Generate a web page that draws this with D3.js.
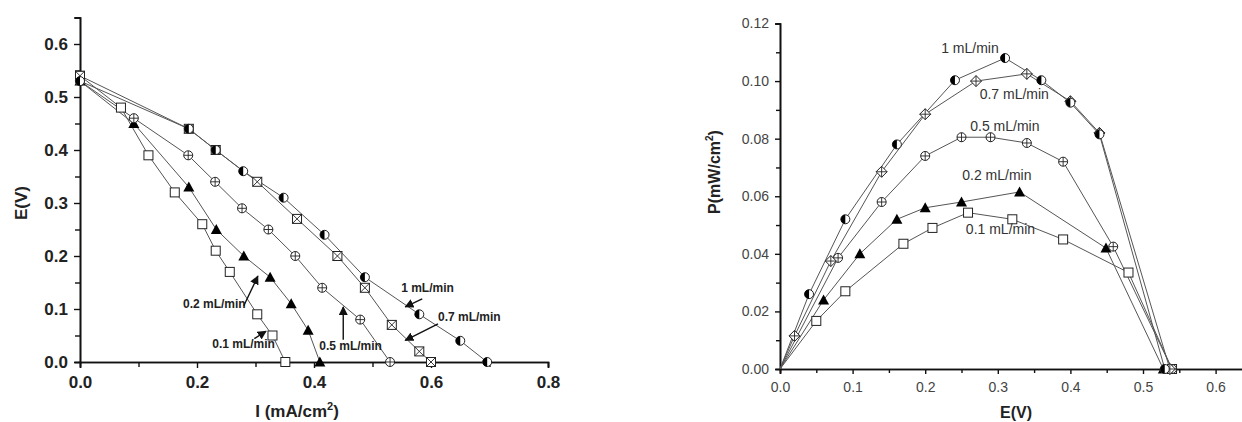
<!DOCTYPE html>
<html>
<head>
<meta charset="utf-8">
<title>E-I and P-E curves</title>
<script src="https://d3js.org/d3.v7.min.js"></script>
<style>
  body { margin: 0; background: #fff; }
  svg { display: block; font-family: "Liberation Sans", Arial, sans-serif; }
</style>
</head>
<body>
<div id="vis"></div>
<script>
// ---- data: polarization curves E(V) vs I (mA/cm2), per flow rate
const flows = ["0.1 mL/min", "0.2 mL/min", "0.5 mL/min", "0.7 mL/min", "1 mL/min"]

const polar01 = [[0, 0.54], [0.07, 0.48], [0.117, 0.39], [0.162, 0.32], [0.209, 0.26], [0.232, 0.21], [0.256, 0.17], [0.303, 0.09], [0.329, 0.05], [0.351, 0.0]]
const polar02 = [[0, 0.53], [0.092, 0.45], [0.186, 0.33], [0.233, 0.25], [0.28, 0.20], [0.325, 0.16], [0.361, 0.11], [0.39, 0.06], [0.41, 0.0]]
const polar05 = [[0, 0.53], [0.092, 0.46], [0.185, 0.39], [0.231, 0.34], [0.277, 0.29], [0.322, 0.25], [0.368, 0.20], [0.414, 0.14], [0.479, 0.08], [0.53, 0.0]]
const polar07 = [[0, 0.54], [0.186, 0.44], [0.232, 0.40], [0.303, 0.34], [0.371, 0.27], [0.44, 0.20], [0.487, 0.14], [0.533, 0.07], [0.58, 0.02], [0.60, 0.0]]
const polar1 = [[0, 0.53], [0.186, 0.44], [0.232, 0.40], [0.279, 0.36], [0.348, 0.31], [0.418, 0.24], [0.487, 0.16], [0.58, 0.09], [0.65, 0.04], [0.696, 0.0]]

// ---- data: power curves P(mW/cm2) vs E(V)
const power01 = [[0, 0], [0.05, 0.0167], [0.09, 0.027], [0.17, 0.0435], [0.21, 0.049], [0.259, 0.0543], [0.32, 0.052], [0.39, 0.045], [0.48, 0.0335], [0.54, 0]]
const power02 = [[0, 0], [0.06, 0.024], [0.11, 0.040], [0.161, 0.052], [0.20, 0.056], [0.25, 0.058], [0.33, 0.0615], [0.449, 0.042], [0.528, 0]]
const power05 = [[0, 0], [0.08, 0.0386], [0.14, 0.058], [0.20, 0.074], [0.25, 0.0805], [0.29, 0.0805], [0.34, 0.0785], [0.39, 0.072], [0.459, 0.0425], [0.54, 0]]
const power07 = [[0, 0], [0.02, 0.0115], [0.07, 0.0375], [0.14, 0.0685], [0.20, 0.0885], [0.27, 0.10], [0.34, 0.1025], [0.40, 0.093], [0.44, 0.082], [0.537, 0]]
const power1 = [[0, 0], [0.04, 0.026], [0.09, 0.052], [0.161, 0.078], [0.241, 0.1003], [0.31, 0.108], [0.36, 0.1003], [0.40, 0.0925], [0.44, 0.0815], [0.53, 0]]

const markerKinds = ["square", "triangle", "circlePlus", "boxX", "halfCircle"]
const markerKindsRight = ["square", "triangle", "circlePlus", "diamondPlus", "halfCircle"]

// ticks
const leftXTicks = [0, 0.2, 0.4, 0.6, 0.8]
const leftYTicks = [0, 0.1, 0.2, 0.3, 0.4, 0.5, 0.6]
const rightXTicks = [0, 0.1, 0.2, 0.3, 0.4, 0.5, 0.6]
const rightYTicks = [0, 0.02, 0.04, 0.06, 0.08, 0.10, 0.12]

// annotations (data coords): label start/baseline and arrow tail/head
const leftNoteText = ["1 mL/min", "0.7 mL/min", "0.5 mL/min", "0.2 mL/min", "0.1 mL/min"]
const leftNotePos = [[0.549, 0.132], [0.612, 0.077], [0.409, 0.023], [0.176, 0.102], [0.226, 0.026]]
const leftArrows = [
  [[0.585, 0.119], [0.556, 0.104]],
  [[0.612, 0.072], [0.556, 0.041]],
  [[0.45, 0.042], [0.45, 0.104]],
  [[0.28, 0.106], [0.304, 0.162]],
  [[0.298, 0.044], [0.318, 0.058]]
]
const rightNoteText = ["1 mL/min", "0.7 mL/min", "0.5 mL/min", "0.2 mL/min", "0.1 mL/min"]
const rightNotePos = [[0.222, 0.1098], [0.275, 0.0938], [0.262, 0.0827], [0.251, 0.0657], [0.256, 0.047]]

const width = 1242
const height = 422

const svg = d3.select("#vis").append("svg")
  .attr("width", width)
  .attr("height", height)

svg.append("defs").append("marker")
  .attr("id", "head")
  .attr("viewBox", "0 0 10 10")
  .attr("refX", 9).attr("refY", 5)
  .attr("markerWidth", 9).attr("markerHeight", 9)
  .attr("markerUnits", "userSpaceOnUse")
  .attr("orient", "auto")
  .append("path")
  .attr("d", "M0,0 L10,5 L0,10 z")
  .attr("fill", "#111")

const ink = "#222"
const lineCol = "#555"

function drawMarker(g, kind, x, y) {
  const m = g.append("g").attr("transform", `translate(${x},${y})`)
  const s = 4.5
  if (kind === "square") {
    m.append("rect").attr("x", -s).attr("y", -s).attr("width", 2 * s).attr("height", 2 * s)
      .attr("fill", "#fff").attr("stroke", ink).attr("stroke-width", 1)
  } else if (kind === "triangle") {
    m.append("path").attr("d", `M0,${-s - 1} L${s + 1},${s} L${-s - 1},${s} Z`).attr("fill", "#000")
  } else if (kind === "circlePlus") {
    m.append("circle").attr("r", s).attr("fill", "#fff").attr("stroke", ink)
    m.append("path").attr("d", `M${-s},0 H${s} M0,${-s} V${s}`).attr("stroke", ink).attr("stroke-width", 0.9)
  } else if (kind === "boxX") {
    m.append("rect").attr("x", -s).attr("y", -s).attr("width", 2 * s).attr("height", 2 * s)
      .attr("fill", "#fff").attr("stroke", ink)
    m.append("path").attr("d", `M${-s},${-s} L${s},${s} M${s},${-s} L${-s},${s}`).attr("stroke", ink).attr("stroke-width", 0.9)
  } else if (kind === "diamondPlus") {
    const d = s + 1
    m.append("path").attr("d", `M0,${-d} L${d},0 L0,${d} L${-d},0 Z`).attr("fill", "#fff").attr("stroke", ink)
    m.append("path").attr("d", `M${-d},0 H${d} M0,${-d} V${d}`).attr("stroke", ink).attr("stroke-width", 0.9)
  } else if (kind === "halfCircle") {
    m.append("circle").attr("r", s).attr("fill", "#fff").attr("stroke", ink)
    m.append("path").attr("d", `M0,${-s} A${s},${s} 0 0,0 0,${s} Z`).attr("fill", "#000")
  }
}

function drawAxes(x, y, xTicks, yTicks, xMinor, yMinor, opts) {
  const g = svg.append("g")
  const xAxis = d3.axisBottom(x).tickValues(xTicks).tickSize(opts.major).tickPadding(opts.padX)
    .tickFormat(opts.xFmt)
  const yAxis = d3.axisLeft(y).tickValues(yTicks).tickSize(opts.major).tickPadding(opts.padY)
    .tickFormat(opts.yFmt)
  g.append("g").attr("transform", `translate(0,${y(0)})`).call(xAxis)
  g.append("g").attr("transform", `translate(${x(0)},0)`).call(yAxis)
  g.append("g").attr("transform", `translate(0,${y(0)})`)
    .call(d3.axisBottom(x).tickValues(xMinor).tickSize(opts.minor).tickFormat(""))
  g.append("g").attr("transform", `translate(${x(0)},0)`)
    .call(d3.axisLeft(y).tickValues(yMinor).tickSize(opts.minor).tickFormat(""))
  g.selectAll(".domain").attr("stroke", "#111").attr("stroke-width", 1.6)
  g.selectAll(".tick line").attr("stroke", "#111").attr("stroke-width", 1.4)
  g.selectAll(".tick text").attr("fill", opts.textCol)
    .style("font-size", opts.fontSize).style("font-weight", opts.weight)
  return g
}

// ================= left chart =================
const xL = d3.scaleLinear().domain([0, 0.8]).range([80, 548])
const yL = d3.scaleLinear().domain([0, 0.65]).range([362, 17.5])

drawAxes(xL, yL, leftXTicks, leftYTicks,
  [0.1, 0.3, 0.5, 0.7], [0.05, 0.15, 0.25, 0.35, 0.45, 0.55, 0.65],
  { major: 6, minor: 5, padX: 8, padY: 6, fontSize: "17px", weight: "bold", textCol: "#222",
    xFmt: d3.format(".1f"), yFmt: d3.format(".1f") })

const leftSeries = [polar01, polar02, polar05, polar07, polar1]
const lineL = d3.line().x(d => xL(d[0])).y(d => yL(d[1]))
const gL = svg.append("g")
leftSeries.forEach(s => {
  gL.append("path").attr("d", lineL(s)).attr("fill", "none").attr("stroke", lineCol).attr("stroke-width", 1)
})
leftSeries.forEach((s, i) => {
  s.forEach(d => drawMarker(gL, markerKinds[i], xL(d[0]), yL(d[1])))
})

leftNoteText.forEach((t, i) => {
  svg.append("text").attr("x", xL(leftNotePos[i][0])).attr("y", yL(leftNotePos[i][1]))
    .text(t).style("font-size", "12px").style("font-weight", "bold").attr("fill", "#222")
  const a = leftArrows[i]
  svg.append("line")
    .attr("x1", xL(a[0][0])).attr("y1", yL(a[0][1]))
    .attr("x2", xL(a[1][0])).attr("y2", yL(a[1][1]))
    .attr("stroke", "#111").attr("stroke-width", 1.4)
    .attr("marker-end", "url(#head)")
})

svg.append("text").attr("transform", `translate(27,203) rotate(-90)`)
  .attr("text-anchor", "middle").text("E(V)")
  .style("font-size", "17px").style("font-weight", "bold").attr("fill", "#222")

const iLab = svg.append("text").attr("x", 297).attr("y", 417).attr("text-anchor", "middle")
  .style("font-size", "17px").style("font-weight", "bold").attr("fill", "#222")
iLab.append("tspan").text("I (mA/cm")
iLab.append("tspan").attr("dy", -7).style("font-size", "11px").text("2")
iLab.append("tspan").attr("dy", 7).text(")")

// ================= right chart =================
const xR = d3.scaleLinear().domain([0, 0.65]).range([780, 780 + 0.65 * 726])
const yR = d3.scaleLinear().domain([0, 0.12]).range([369, 23.5])

drawAxes(xR, yR, rightXTicks, rightYTicks,
  [0.05, 0.15, 0.25, 0.35, 0.45, 0.55], [0.01, 0.03, 0.05, 0.07, 0.09, 0.11],
  { major: 5, minor: 4, padX: 8, padY: 6, fontSize: "14px", weight: "normal", textCol: "#444",
    xFmt: d3.format(".1f"), yFmt: d3.format(".2f") })

const rightSeries = [power01, power02, power05, power07, power1]
const lineR = d3.line().x(d => xR(d[0])).y(d => yR(d[1]))
const gR = svg.append("g")
rightSeries.forEach(s => {
  gR.append("path").attr("d", lineR(s)).attr("fill", "none").attr("stroke", lineCol).attr("stroke-width", 1)
})
// origin points are hidden under the axes corner in the original
rightSeries.forEach((s, i) => {
  s.filter(d => d[0] > 0).forEach(d => drawMarker(gR, markerKindsRight[i], xR(d[0]), yR(d[1])))
})

rightNoteText.forEach((t, i) => {
  svg.append("text").attr("x", xR(rightNotePos[i][0])).attr("y", yR(rightNotePos[i][1]))
    .text(t).style("font-size", "14px").attr("fill", "#333")
})

const pLab = svg.append("text").attr("transform", `translate(720,172) rotate(-90)`)
  .attr("text-anchor", "middle")
  .style("font-size", "16px").style("font-weight", "bold").attr("fill", "#222")
pLab.append("tspan").text("P(mW/cm")
pLab.append("tspan").attr("dy", -7).style("font-size", "10px").text("2")
pLab.append("tspan").attr("dy", 7).text(")")

svg.append("text").attr("x", 1016).attr("y", 418).attr("text-anchor", "middle")
  .text("E(V)").style("font-size", "16px").style("font-weight", "bold").attr("fill", "#222")
</script>
</body>
</html>
